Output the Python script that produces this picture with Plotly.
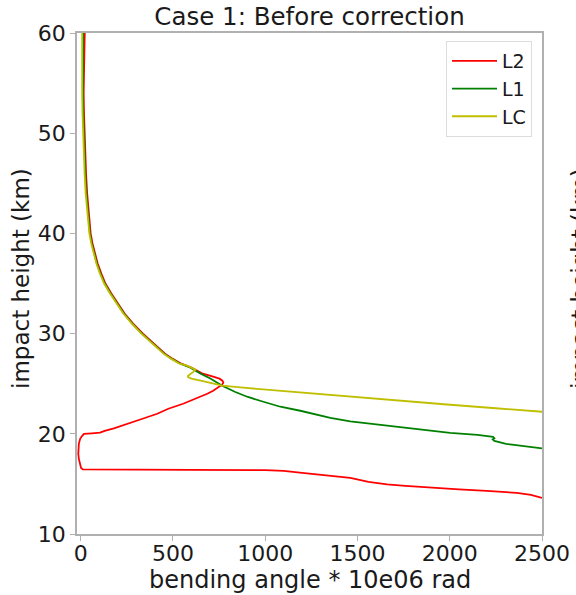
import plotly.graph_objects as go

# ---- data ----
# shared upper part of the profiles (impact height in km, descending)
upper_y = [60, 58, 56, 54, 52, 50, 48, 46, 44, 42, 40, 39, 38, 37, 36, 35, 34, 33, 32, 31, 30, 29, 28, 27.5, 27]
l1_upper_x = [14, 12, 11, 12, 14, 17, 20, 25, 31, 39, 50, 60, 72, 88, 107, 130, 162, 197, 234, 280, 332, 392, 452, 492, 540]
l2_upper_x = [22, 19, 16, 16, 18, 21, 24, 29, 35, 43, 54, 64, 76, 92, 112, 134, 166, 201, 238, 284, 337, 397, 457, 497, 545]
lc_upper_x = [8, 7, 6, 8, 10, 13, 16, 21, 27, 35, 47, 57, 69, 85, 104, 127, 159, 194, 231, 277, 329, 389, 449, 489, 535]

# L1 lower part
l1_low_y = [26.6, 26.0, 25.5, 25.0, 24.8, 24.2, 23.7, 23.2, 22.7, 22.3, 21.9, 21.6, 21.25, 20.9, 20.65, 20.35,
            20.1, 19.9, 19.8, 19.7, 19.55, 19.45, 19.3, 19.15, 19.0, 18.85, 18.7, 18.55]
l1_low_x = [595, 650, 705, 748, 767, 835, 902, 990, 1082, 1190, 1280, 1353, 1461, 1623, 1732, 1870,
            2002, 2150, 2210, 2235, 2242, 2233, 2242, 2268, 2305, 2370, 2440, 2500]

# L2 lower part (loop, gap and tail)
l2_low_y = [26.6, 26.3, 26.0, 25.7, 25.5, 25.3, 25.1, 24.9, 24.6, 24.3, 24.0, 23.5, 23.0, 22.5, 22.0, 21.5,
            21.0, 20.55, 20.3, 20.12, 20.05, 20.0, 19.8, 19.5, 19.0, 18.5, 18.0, 17.5, 17.0, 16.6, 16.45,
            16.42, 16.4, 16.38, 16.3, 16.1, 15.9, 15.6, 15.2, 14.95, 14.8, 14.6, 14.45, 14.3, 14.1, 13.9, 13.6]
l2_low_x = [600, 628, 662, 718, 752, 768, 773, 766, 745, 718, 686, 620, 555, 475, 415, 335,
            255, 180, 130, 105, 60, 18, 8, -3, -10, -13, -13, -10, -5, 2, 12,
            200, 600, 1000, 1100, 1200, 1320, 1461, 1560, 1660, 1760, 1900, 2050, 2200, 2364, 2440, 2500]

# LC lower part (small loop then tail)
lc_low_y = [26.8, 26.55, 26.4, 26.2, 26.0, 25.8, 25.65, 25.5, 25.3, 25.0, 24.8, 24.6, 24.4, 24.1,
            23.85, 23.55, 23.2, 22.9, 22.55, 22.2]
lc_low_x = [575, 610, 622, 612, 595, 582, 582, 600, 650, 715, 767, 880, 1010, 1190,
            1353, 1553, 1780, 2002, 2250, 2500]

series_names = ["L2", "L1", "LC"]
series_colors = ["#ff0000", "#008000", "#bfbf00"]

x_ticks = [0, 500, 1000, 1500, 2000, 2500]
y_ticks = [10, 20, 30, 40, 50, 60]

l2_x = l2_upper_x + l2_low_x
l2_y = upper_y + l2_low_y
l1_x = l1_upper_x + l1_low_x
l1_y = upper_y + l1_low_y
lc_x = lc_upper_x + lc_low_x
lc_y = upper_y + lc_low_y

fig = go.Figure()
for name, xs, ys, col in zip(series_names, [l2_x, l1_x, lc_x], [l2_y, l1_y, lc_y], series_colors):
    fig.add_trace(go.Scatter(x=xs, y=ys, mode="lines", name=name,
                             line=dict(color=col, width=1.8)))

L, R, T, B = 77, 34, 33, 61
W, H = 576, 595
pw, ph = W - L - R, H - T - B

fig.update_layout(
    width=W, height=H,
    margin=dict(l=L, r=R, t=T, b=B, autoexpand=False),
    plot_bgcolor="white", paper_bgcolor="white",
    font=dict(family="DejaVu Sans", size=23, color="#1a1a1a"),
    title=dict(text="Case 1: Before correction", x=(L + pw / 2) / W, xanchor="center",
               y=1 - 16 / H, yanchor="middle", font=dict(size=24.5)),
    showlegend=True,
    legend=dict(x=(532 - L) / pw, xanchor="right", y=(H - B - 41) / ph, yanchor="top",
                bgcolor="rgba(255,255,255,0.8)", bordercolor="#dddddd", borderwidth=1,
                itemwidth=45, font=dict(size=19)),
)
fig.update_xaxes(range=[-20, 2500], tickvals=x_ticks, showline=True, linecolor="#b0b0b0",
                 linewidth=1.5, mirror=True, ticks="outside", tickcolor="#b0b0b0", ticklen=5,
                 showgrid=False, zeroline=False, tickfont=dict(size=22), ticklabelstandoff=-6)
fig.update_yaxes(range=[10, 60], tickvals=y_ticks, showline=True, linecolor="#b0b0b0",
                 linewidth=1.5, mirror=True, ticks="outside", tickcolor="#b0b0b0", ticklen=5,
                 showgrid=False, zeroline=False, tickfont=dict(size=22))

fig.add_annotation(text="bending angle * 10e06 rad", xref="paper", yref="paper",
                   x=0.5, y=-(580 - (H - B)) / ph, xanchor="center", yanchor="middle",
                   showarrow=False, font=dict(size=24))
fig.add_annotation(text="impact height (km)", xref="paper", yref="paper",
                   x=(21 - L) / pw, y=(H - B - 279) / ph, xanchor="center", yanchor="middle",
                   textangle=-90, showarrow=False, font=dict(size=23))
# label of the neighbouring panel, cut off at the right edge
fig.add_annotation(text="impact height (km)", xref="paper", yref="paper",
                   x=(580 - L) / pw, y=(H - B - 279) / ph, xanchor="center", yanchor="middle",
                   textangle=-90, showarrow=False, font=dict(size=23))

fig.write_html("out.html")
